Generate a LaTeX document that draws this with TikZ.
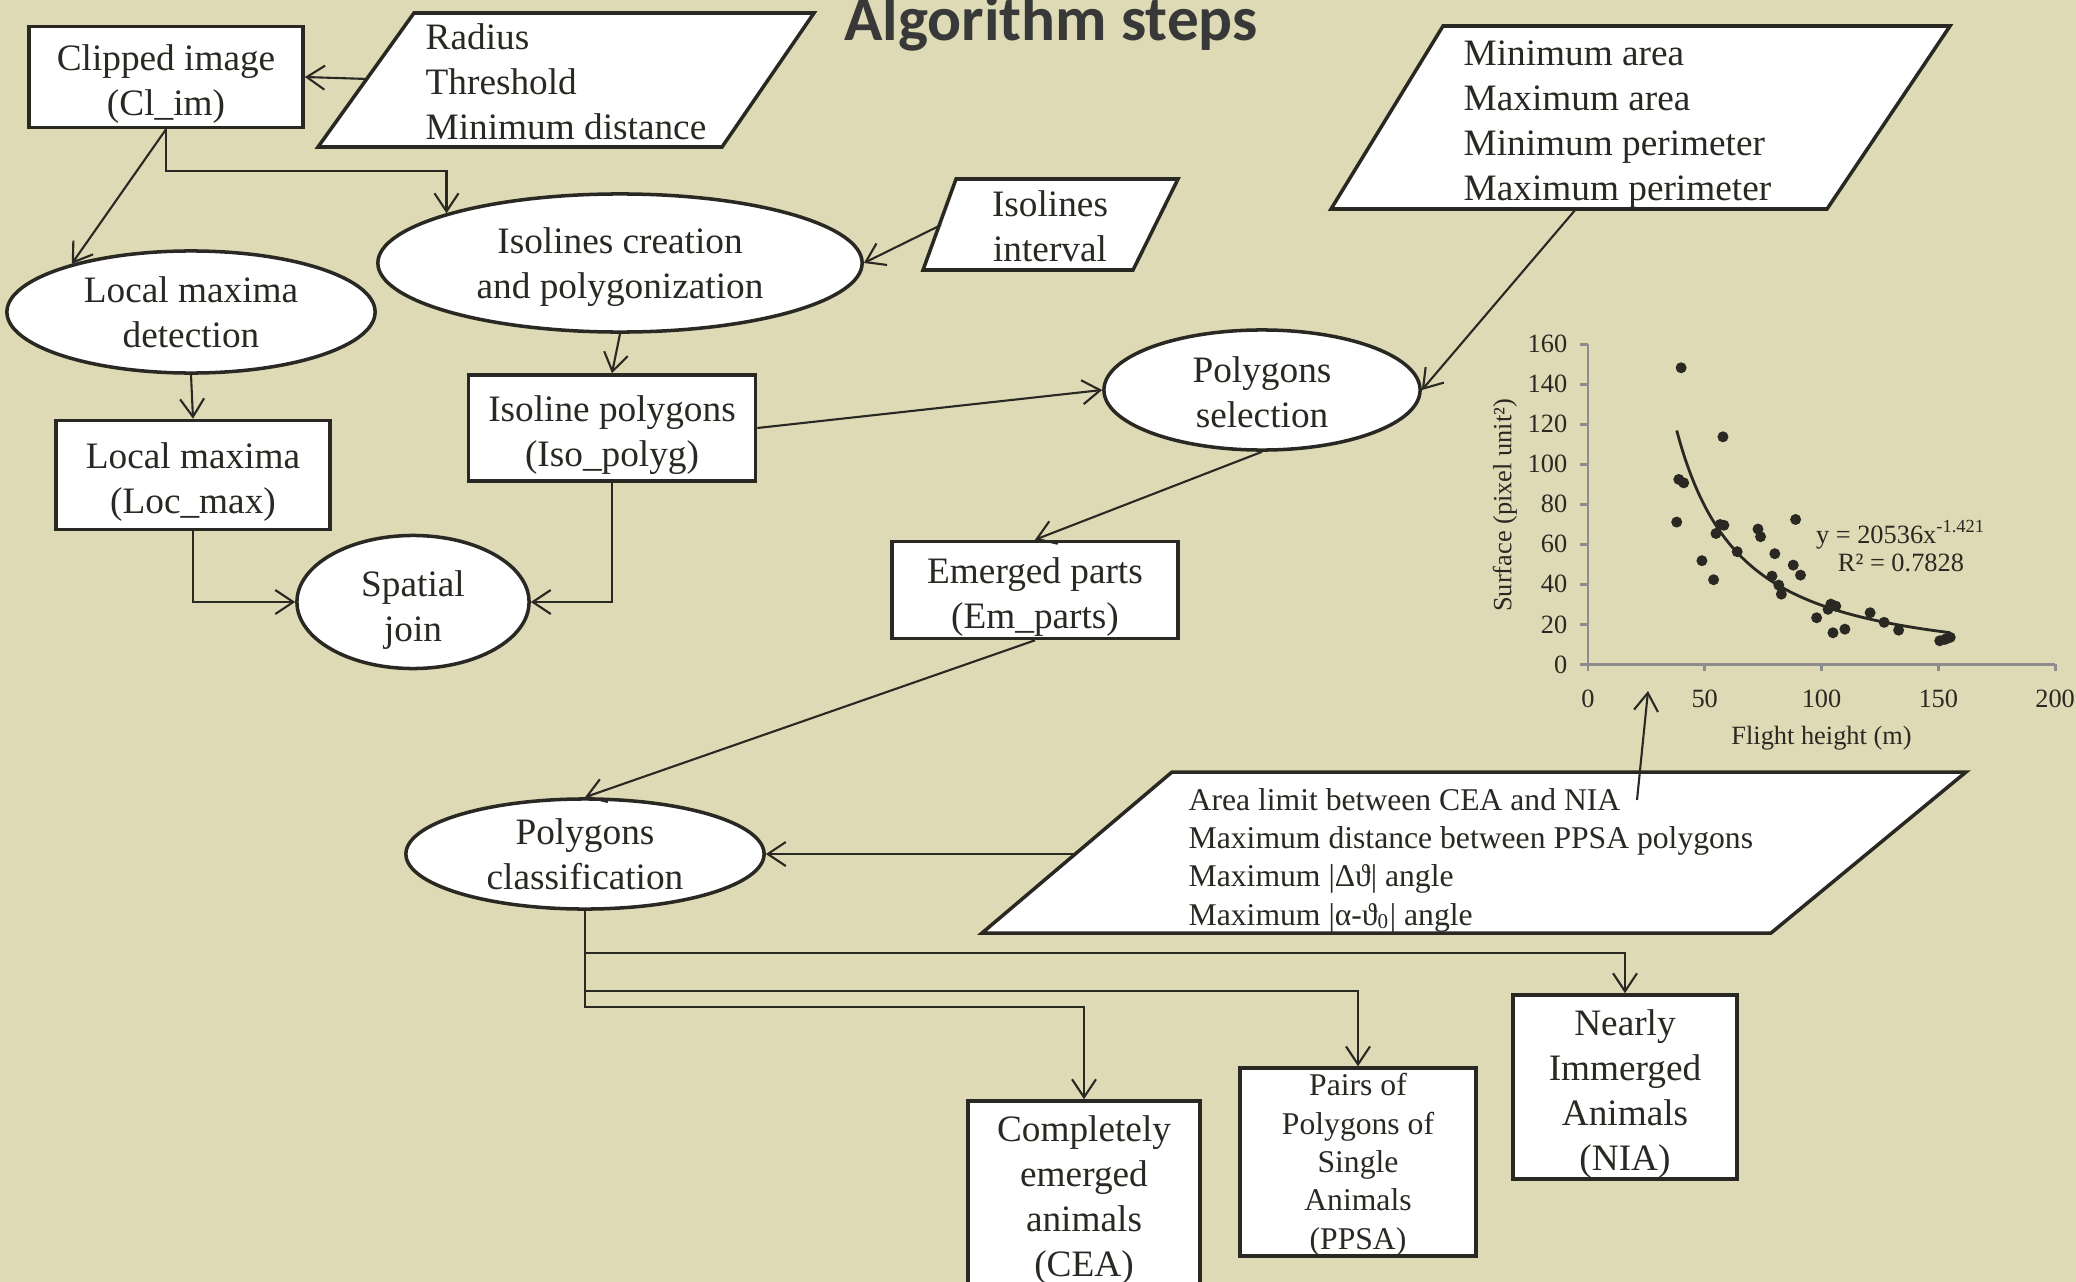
\documentclass[tikz,border=0pt]{standalone}
\usepackage{fontspec}
\setmainfont{Liberation Serif}
\newfontfamily\titlefont{Carlito}
\usetikzlibrary{shapes.geometric,arrows.meta}
\definecolor{paper}{HTML}{DEDAB6}
\definecolor{ink}{HTML}{2A2822}
\definecolor{titlegray}{HTML}{383838}
\definecolor{axisgray}{HTML}{8C8C8C}
\newcommand\sink[1]{\rule{0pt}{#1}}

\begin{document}
\begin{tikzpicture}[x=0.01cm,y=-0.01cm,
	every node/.style={text=ink},
	txt/.style={font=\fontsize{10.6}{12.8}\selectfont},
	small/.style={font=\fontsize{9}{10.9}\selectfont},
	chart/.style={font=\fontsize{7.5}{8}\selectfont,inner sep=0pt},
	box/.style={txt,draw=ink,line width=1pt,fill=white,inner sep=0pt,align=center},
	oval/.style={box,ellipse},
	para/.style={draw=ink,line width=1pt,fill=white},
	link/.style={draw=ink,line width=0.6pt,-{Straight Barb[length=1.8mm,width=2.4mm]}}]
	\useasboundingbox (0,0) rectangle (2076,1282);
	\clip (0,0) rectangle (2076,1282);
	\fill[paper] (0,0) rectangle (2076,1282);

	\node[font=\titlefont\bfseries\fontsize{18}{20}\selectfont,text=titlegray,anchor=base] (title) at (1051,41) {Algorithm steps};

	\node[box,minimum width=2.74cm,minimum height=1.01cm] (clip) at (166,77) {\sink{11.2pt}Clipped image\\(Cl\_im)};
	\node[oval,minimum width=3.68cm,minimum height=1.22cm] (lmd) at (191,312) {Local maxima\\detection};
	\node[oval,minimum width=4.84cm,minimum height=1.38cm] (isocr) at (620,263) {\sink{9.5pt}Isolines creation\\and polygonization};
	\node[box,minimum width=2.74cm,minimum height=1.09cm] (lmax) at (193,475) {\sink{11.2pt}Local maxima\\(Loc\_max)};
	\node[box,minimum width=2.87cm,minimum height=1.06cm] (isopol) at (612,428) {\sink{11.2pt}Isoline polygons\\(Iso\_polyg)};
	\node[oval,minimum width=2.32cm,minimum height=1.20cm] (sj) at (413,602) {\sink{11.7pt}Spatial\\join};
	\node[oval,minimum width=3.16cm,minimum height=1.20cm] (polsel) at (1262,390) {\sink{8.7pt}Polygons\\selection};
	\node[box,minimum width=2.86cm,minimum height=0.97cm] (em) at (1035,590) {\sink{11.2pt}Emerged parts\\(Em\_parts)};
	\node[oval,minimum width=3.58cm,minimum height=1.10cm] (pc) at (585,854) {Polygons\\classification};
	\node[box,minimum width=2.32cm,minimum height=1.90cm] (cea) at (1084,1196) {\sink{9.5pt}Completely\\emerged\\animals\\(CEA)};
	\node[box,small,minimum width=2.36cm,minimum height=1.83cm] (ppsa) at (1358,1162) {\sink{7.9pt}Pairs of\\Polygons of\\Single\\Animals\\(PPSA)};
	\node[box,minimum width=2.24cm,minimum height=1.84cm] (nia) at (1625,1087) {\sink{11.2pt}Nearly\\Immerged\\Animals\\(NIA)};

	\draw[para] (414,13) -- (814,13) -- (722,147) -- (318,147) -- cycle;
	\node[txt,align=left,anchor=west,inner sep=0pt] (radtxt) at (425,82) {Radius\\Threshold\\Minimum distance};
	\coordinate (radL) at (368,79);

	\draw[para] (956,179) -- (1178,179) -- (1133,270) -- (923,270) -- cycle;
	\node[txt,align=center,inner sep=0pt] (isotxt) at (1050,226) {Isolines\\interval};
	\coordinate (isoL) at (941,225);

	\draw[para] (1443,26) -- (1950,26) -- (1827,209) -- (1331,209) -- cycle;
	\node[txt,align=left,anchor=west,inner sep=0pt] (mintxt) at (1463,125) {Minimum area\\Maximum area\\Minimum perimeter\\Maximum perimeter};
	\coordinate (minB) at (1576,209);

	\draw[para] (1172,772) -- (1966,772) -- (1771,933) -- (982,933) -- cycle;
	\node[small,align=left,anchor=west,inner sep=0pt] (areatxt) at (1188,860) {Area limit between CEA and NIA\\Maximum distance between PPSA polygons\\Maximum |Δϑ| angle\\Maximum |α-ϑ\textsubscript{0}| angle};
	\coordinate (areaL) at (1075,854);
	\coordinate (areaT) at (1637,800);
	\coordinate (charttip) at (1648,691);

	\begin{scope}[xshift=15.87cm,yshift=-6.64cm,x=0.02334cm,y=0.02cm]
		\draw[axisgray,line width=0.8pt] (0,160) -- (0,0) -- (200,0);
		\foreach \v in {0,20,...,160} {
			\draw[axisgray,line width=0.8pt] (0,\v) -- ++(-0.8mm,0);
			\node[chart,anchor=east] (yl\v) at ([xshift=-2mm]0,\v) {\v};
		}
		\foreach \v in {0,50,...,200} {
			\draw[axisgray,line width=0.8pt] (\v,0) -- ++(0,-0.7mm);
			\node[chart] (xl\v) at ([yshift=-3.4mm]\v,0) {\v};
		}
		\node[chart] (xlab) at (100,-37) {Flight height (m)};
		\node[chart,rotate=90] (ylab) at (-35.6,79.5) {Surface (pixel unit²)};
		\node[chart,align=center] (eq) at (134,59) {y = 20536x\textsuperscript{-1.421}\\R² = 0.7828};
		\draw[ink,line width=0.8pt] plot[domain=38:155,samples=60,smooth] (\x,{exp(9.92995-1.421*ln(\x))});
		\foreach \px/\py in {39.9/148.2,38.9/92.4,41.0/90.7,38.0/71.1,57.8/113.7,56.6/69.9,58.2/69.5,54.8/65.4,
			63.9/56.3,48.8/51.8,53.8/42.3,72.8/67.6,73.9/63.8,88.9/72.4,80.0/55.3,78.8/44.1,81.7/39.6,
			82.8/35.1,87.9/49.6,91.0/44.6,97.9/23.3,102.8/27.5,104.0/30.1,106.1/29.1,104.9/15.8,110.0/17.6,
			120.8/25.8,126.8/21.0,133.0/17.1,150.6/11.8,152.9/12.5,155.1/13.5,153.7/13.0}
			\fill[ink] (\px,\py) circle[radius=0.55mm];
	\end{scope}

	\draw[link] (radL) -- (clip.east);
	\draw[link] (clip.south) -- ++(0,42) -| (isocr.164);
	\draw[link] (clip.south) -- (lmd.158);
	\draw[link] (lmd.south) -- (lmax.north);
	\draw[link] (lmax.south) |- (sj.west);
	\draw[link] (isopol.south) |- (sj.east);
	\draw[link] (isocr.south) -- (isopol.north);
	\draw[link] (isoL) -- (isocr.east);
	\draw[link] (isopol.east) -- (polsel.west);
	\draw[link] (minB) -- (polsel.east);
	\draw[link] (polsel.south) -- (em.north);
	\draw[link] (em.south) -- (pc.north);
	\draw[link] (areaL) -- (pc.east);
	\draw[link] (areaT) -- (charttip);
	\draw[link] (pc.south) -- ++(0,42) -| (nia.north);
	\draw[link] (pc.south) -- ++(0,80) -| (ppsa.north);
	\draw[link] (pc.south) -- ++(0,96) -| (cea.north);
\end{tikzpicture}
\end{document}
